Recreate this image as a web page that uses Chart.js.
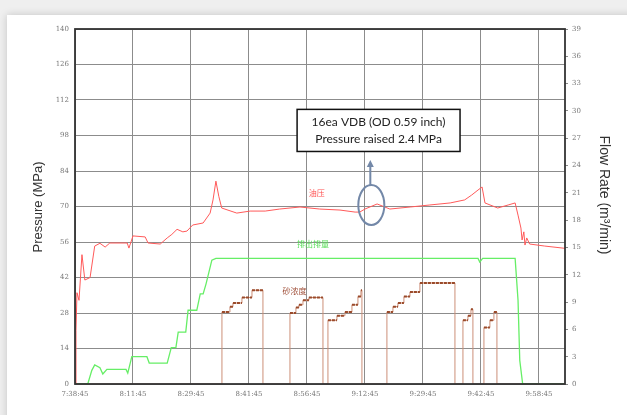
<!DOCTYPE html>
<html><head><meta charset="utf-8">
<script src="https://cdn.jsdelivr.net/npm/chart.js@4.4.1/dist/chart.umd.min.js"></script>
<style>html,body{margin:0;padding:0;background:#efefef;overflow:hidden}#c{display:block}</style>
</head><body>
<canvas id="c" width="627" height="415"></canvas>
<script>
// ---- data ----
const timeLabels = ["7:38:45","8:11:45","8:29:45","8:41:45","8:56:45","9:12:45","9:29:45","9:42:45","9:58:45"];
const pressureTicks = [0,14,28,42,56,70,84,98,112,126,140];
const flowTicks = [0,3,6,9,12,15,18,21,24,27,30,33,36,39];

// x positions are in label-interval units along the time axis
const pressureX = [0,0.017,0.034,0.069,0.12,0.17,0.26,0.34,0.43,0.52,0.60,0.90,0.93,1.0,1.21,1.26,1.47,1.59,1.67,1.76,1.86,1.93,2.03,2.21,2.33,2.38,2.43,2.48,2.53,2.79,3.02,3.28,3.53,3.88,4.22,4.57,4.83,4.91,5.0,5.21,5.43,5.78,6.12,6.47,6.72,6.84,6.95,7.02,7.07,7.29,7.47,7.59,7.64,7.69,7.71,7.74,7.76,7.79,7.84,8.10,8.45];
const pressureY = [0,21,36,33,51,41,42,54.4,55.5,54,55.6,55.6,53.6,58.4,58,55.6,55.2,57.6,59,61,60,60.3,62.7,63.5,67.4,72.6,80,74,69.4,67.4,68.2,68.2,69,69.8,69,68.6,67.8,67.8,69,71,69,69.8,70.6,71.4,72.6,74.5,76.5,77.7,71.4,69.4,70.6,71.4,66.6,61.5,56.8,60,54.8,57.6,55.2,54.4,53.5];

const flowX = [0,0.22,0.29,0.34,0.43,0.48,0.55,0.88,0.91,0.98,1.24,1.28,1.59,1.66,1.74,1.78,1.91,1.95,2.10,2.16,2.21,2.26,2.36,2.43,3.88,6.95,6.98,7.03,7.59,7.64,7.67,7.72,8.45];
const flowY = [0,0,1.5,2.1,1.8,1.1,1.6,1.6,1.2,3.0,3.0,2.3,2.3,4.0,4.0,5.7,5.7,8.1,8.1,9.9,9.9,11.0,13.6,13.8,13.8,13.8,13.4,13.8,13.8,9.2,2.6,0,0];

// sand concentration: change points (level starts at x)
const sandX = [0,2.534,2.672,2.724,2.879,3.052,3.241,3.707,3.810,3.862,3.931,4.034,4.276,4.362,4.517,4.655,4.776,4.879,4.931,4.948,5.379,5.483,5.569,5.672,5.776,5.948,6.552,6.690,6.776,6.828,6.862,7.052,7.155,7.224,7.276,8.45];
const sandY = [0,7.9,8.5,8.9,9.5,10.3,0,7.8,8.4,8.7,9.2,9.5,0,7.0,7.5,7.9,8.7,9.6,10.3,0,7.9,8.5,8.9,9.6,10.1,11.1,0,7.0,7.5,8.2,0,6.2,7.0,7.9,0,0];

const seriesNames = ["油压","排出排量","砂浓度"];
const noteLines = ["16ea VDB (OD 0.59 inch)","Pressure raised 2.4 MPa"];

const zip = (xs, ys) => xs.map((x, i) => ({x, y: ys[i]}));
// horizontal step plateaus of the sand series (non-zero levels), separated by gaps
const plateaus = [];
sandX.forEach((x, i) => {
  if (i < sandX.length - 1 && sandY[i] > 0) {
    plateaus.push({x, y: sandY[i]}, {x: sandX[i+1], y: sandY[i]}, {x: sandX[i+1], y: null});
  }
});

const AREA = {left:75, right:565, top:29, bottom:384};

const bgPlugin = {
  id:'bg',
  beforeDraw(chart){
    const c = chart.ctx;
    c.save();
    c.fillStyle = '#efefef';
    c.fillRect(0,0,chart.width,chart.height);
    c.shadowColor = 'rgba(0,0,0,0.18)';
    c.shadowBlur = 8;
    c.fillStyle = '#ffffff';
    c.fillRect(7,15,chart.width+20,chart.height+20);
    c.restore();
  }
};

const decoPlugin = {
  id:'deco',
  afterDatasetsDraw(chart){
    const c = chart.ctx, a = chart.chartArea;
    const xs = chart.scales.x, yp = chart.scales.y, yf = chart.scales.y1;
    c.save();
    // plot frame
    c.strokeStyle = '#333'; c.lineWidth = 1.8;
    c.strokeRect(a.left, a.top, a.right - a.left, a.bottom - a.top);
    // series labels
    c.font = '8px "Noto Sans CJK SC"';
    c.textAlign = 'left'; c.textBaseline = 'middle';
    c.fillStyle = '#ff5050';
    c.fillText(seriesNames[0], xs.getPixelForValue(4.03), yp.getPixelForValue(75.5));
    c.fillStyle = '#55dd55';
    c.fillText(seriesNames[1], xs.getPixelForValue(3.83), yf.getPixelForValue(15.4));
    c.fillStyle = '#a0503a';
    c.fillText(seriesNames[2], xs.getPixelForValue(3.58), yf.getPixelForValue(10.2));
    // ellipse + arrow
    const cx = xs.getPixelForValue(5.11), cy = yp.getPixelForValue(70.6);
    c.strokeStyle = '#7388a8'; c.lineWidth = 2;
    c.beginPath(); c.ellipse(cx, cy, 13, 20, 0, 0, Math.PI*2); c.stroke();
    c.beginPath(); c.moveTo(cx - 1, cy - 20); c.lineTo(cx - 1, cy - 40); c.stroke();
    c.fillStyle = '#7388a8';
    c.beginPath(); c.moveTo(cx - 4.5, cy - 38); c.lineTo(cx - 1, cy - 45); c.lineTo(cx + 2.5, cy - 38); c.closePath(); c.fill();
    // note box
    const bx0 = xs.getPixelForValue(3.83), bx1 = xs.getPixelForValue(6.64);
    const by0 = yp.getPixelForValue(108.3), by1 = yp.getPixelForValue(91.7);
    c.fillStyle = '#ffffff';
    c.fillRect(bx0, by0, bx1 - bx0, by1 - by0);
    c.strokeStyle = '#111'; c.lineWidth = 1.5;
    c.strokeRect(bx0, by0, bx1 - bx0, by1 - by0);
    c.fillStyle = '#222'; c.font = '12px Lato'; c.textAlign = 'center';
    c.fillText(noteLines[0], (bx0+bx1)/2, by0 + 13);
    c.fillText(noteLines[1], (bx0+bx1)/2, by0 + 30);
    // axis titles
    c.fillStyle = '#333'; c.font = '13px "Liberation Sans"';
    c.save(); c.translate(38, 207); c.rotate(-Math.PI/2); c.fillText('Pressure (MPa)', 0, 0); c.restore();
    c.font = '14px "Liberation Sans"';
    c.save(); c.translate(604, 195); c.rotate(Math.PI/2); c.fillText('Flow Rate (m³/min)', 0, 0); c.restore();
    c.restore();
  }
};

const tickFont = {family:'"DejaVu Serif"', size:7};

new Chart(document.getElementById('c'), {
  type:'line',
  data:{datasets:[
    {label:seriesNames[0], data:zip(pressureX, pressureY), yAxisID:'y', borderColor:'#ff5a5a', borderWidth:1, pointRadius:0, tension:0, order:1},
    {label:seriesNames[1], data:zip(flowX, flowY), yAxisID:'y1', borderColor:'#66ee66', borderWidth:1.3, pointRadius:0, tension:0, order:2},
    {label:seriesNames[2], data:zip(sandX, sandY), yAxisID:'y1', borderColor:'#cc8f78', borderWidth:1, pointRadius:0, stepped:'before', order:4},
    {label:seriesNames[2] + ' steps', data:plateaus, yAxisID:'y1', borderColor:'#9a4a2a', borderWidth:2, borderDash:[3,1], pointRadius:0, spanGaps:false, order:3}
  ]},
  options:{
    responsive:false, animation:false, devicePixelRatio:1,
    layout:{padding:{top:AREA.top, left:0, right:0, bottom:0}},
    plugins:{legend:{display:false}, tooltip:{enabled:false}},
    scales:{
      x:{type:'linear', min:0, max:8.45, border:{display:false},
         grid:{color:'#8c8c8c', lineWidth:1, drawTicks:false},
         ticks:{stepSize:1, includeBounds:false, autoSkip:false, maxRotation:0, padding:6, color:'#777', font:tickFont,
                callback:v => timeLabels[v] ?? ''},
         afterFit:s => { s.height = 415 - AREA.bottom; }},
      y:{type:'linear', position:'left', min:0, max:140, border:{display:false},
         grid:{color:'#8c8c8c', lineWidth:1, drawTicks:false},
         afterBuildTicks:s => { s.ticks = pressureTicks.map(v => ({value:v})); },
         ticks:{padding:6, color:'#777', font:tickFont},
         afterFit:s => { s.width = AREA.left; }},
      y1:{type:'linear', position:'right', min:0, max:39, border:{display:false},
         grid:{drawOnChartArea:false, drawTicks:true, tickLength:3, color:'#888'},
         afterBuildTicks:s => { s.ticks = flowTicks.map(v => ({value:v})); },
         ticks:{padding:4, color:'#777', font:tickFont},
         afterFit:s => { s.width = 627 - AREA.right; }}
    }
  },
  plugins:[bgPlugin, decoPlugin]
});
</script>
</body></html>
